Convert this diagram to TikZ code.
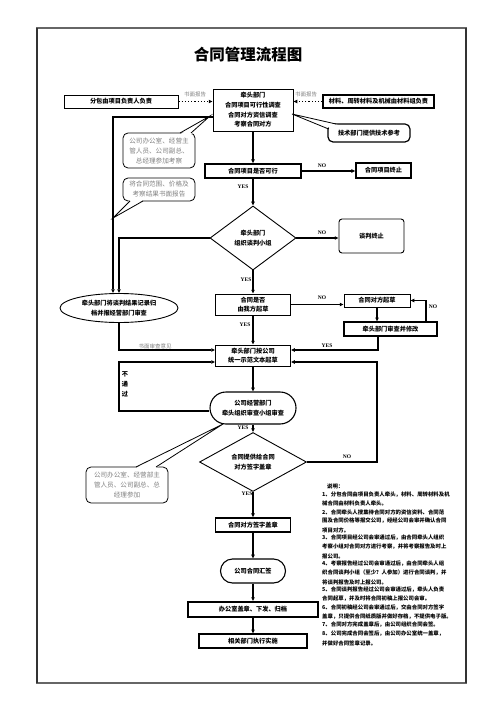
\documentclass[tikz,border=0pt]{standalone}
\usepackage{fontspec}
\newfontfamily\cjk{Noto Sans CJK SC}
\newfontfamily\tms{Liberation Serif}
\usetikzlibrary{shapes.geometric,arrows.meta}
\tikzset{
  base/.style={draw, inner sep=0pt, align=center, font=\cjk\bfseries\fontsize{6.2}{9.6}\selectfont},
  rbox/.style={base, line width=0.9pt},
  tbox/.style={base, line width=1.6pt},
  callout/.style={draw, rounded corners=5pt, line width=0.8pt, align=center, inner sep=0pt, text=black!50, font=\cjk\fontsize{6.6}{10}\selectfont},
  arr/.style={line width=1.3pt, -{Triangle[length=3.8pt,width=3.3pt]}},
  dots/.style={line width=1.2pt, dotted, -{Triangle[length=3.8pt,width=3.3pt]}},
  lab/.style={font=\tms\bfseries\fontsize{5.5}{6}\selectfont, inner sep=0pt},
  glab/.style={font=\cjk\fontsize{5.5}{6}\selectfont, text=black!50, inner sep=0pt},
  note/.style={anchor=west, inner sep=0pt, font=\cjk\bfseries\fontsize{5.4}{6}\selectfont},
  tail/.style={line width=0.8pt},
}
\begin{document}
\begin{tikzpicture}[x=1pt,y=-1pt]
\useasboundingbox (0,0) rectangle (503,711);
\draw[black!60, line width=1.2pt] (37,28) rectangle (466,683);
\draw[black!80, line width=2.2pt] (37,28) -- (37,683);
\draw[black!80, line width=1.8pt] (466,28) -- (466,683);

\node[font=\cjk\bfseries\fontsize{15.5}{16}\selectfont] (title) at (248,55) {合同管理流程图};

% top row
\node[rbox, minimum width=80pt, minimum height=42pt] (top) at (253,110) {牵头部门\\合同项目可行性调查\\合同对方资信调查\\考察合同对方};
\node[rbox, minimum width=114pt, minimum height=13pt] (left) at (121,101.5) {分包由项目负责人负责};
\node[base, line width=1.4pt, minimum width=111pt, minimum height=13pt] (right) at (378.5,101.5) {材料、周转材料及机械由材料组负责};
\node[base, rounded corners=5pt, line width=1.2pt, minimum width=82pt, minimum height=18pt] (tech) at (369,133) {技术部门提供技术参考};
\node[callout, minimum width=72pt, minimum height=35pt] (c1) at (159,150.5) {公司办公室、经营主\\管人员、公司副总、\\总经理参加考察};
\node[callout, minimum width=72pt, minimum height=23pt] (c2) at (159,189.5) {将合同范围、价格及\\考察结果书面报告};

% main flow
\node[tbox, minimum width=96pt, minimum height=14pt] (feas) at (253,171) {合同项目是否可行};
\node[tbox, minimum width=55pt, minimum height=15pt] (stop) at (383.5,170.5) {合同项目终止};
\node[base, diamond, line width=0.9pt, minimum width=86pt, minimum height=64pt] (d1) at (253,238) {牵头部门\\组织谈判小组};
\node[base, rounded corners=3pt, line width=0.9pt, minimum width=65pt, minimum height=34pt] (talk) at (371.5,236) {谈判终止};
\node[base, ellipse, line width=0.9pt, minimum width=118pt, minimum height=29pt] (ell) at (119,308) {牵头部门将谈判结果记录归\\档并报经营部门审查};
\node[rbox, minimum width=75pt, minimum height=21pt] (draft) at (253,304.5) {合同是否\\由我方起草};
\node[rbox, minimum width=66pt, minimum height=13pt] (other) at (377,300.5) {合同对方起草};
\node[base, line width=1.2pt, minimum width=93pt, minimum height=14pt] (rev) at (390.5,329) {牵头部门审查并修改};
\node[rbox, minimum width=75pt, minimum height=21pt] (std) at (253,355.5) {牵头部门按公司\\统一示范文本起草};
\node[base, rounded corners=16pt, line width=1.1pt, minimum width=86pt, minimum height=32pt] (stad1) at (253,408) {公司经营部门\\牵头组织审查小组审查};
\node[base, diamond, line width=0.9pt, minimum width=107pt, minimum height=46pt] (d2) at (253,462) {合同提供给合同\\对方签字盖章};
\node[callout, minimum width=82pt, minimum height=36pt] (c3) at (127,485) {公司办公室、经营部主\\管人员、公司副总、总\\经理参加};
\node[tbox, minimum width=75pt, minimum height=14pt] (sign) at (253,525) {合同对方签字盖章};
\node[base, rounded corners=12pt, line width=1.1pt, minimum width=65pt, minimum height=24pt] (stad2) at (253,571) {公司合同汇签};
\node[base, line width=1.8pt, minimum width=130pt, minimum height=15pt] (office) at (253,609.5) {办公室盖章、下发、归档};
\node[base, line width=1.2pt, minimum width=108pt, minimum height=14pt] (exec) at (253,641) {相关部门执行实施};

% dotted report arrows
\draw[dots] (left.east) -- (left.east -| top.west);
\draw[dots] (right.west) -- (right.west -| top.east);
\node[glab] (lr1) at (195,94) {书面报告};
\node[glab] (lr2) at (306,94) {书面报告};

% connectors
\draw[arr] (top.south) -- (feas.north);
\draw[arr] (feas.east) -- (feas.east -| stop.west);
\draw[arr] (feas.south) -- (d1.north);
\draw[arr] (d1.east) -- (d1.east -| talk.west);
\draw[arr] (d1.south) -- (draft.north);
\draw[arr] (draft.east) -- (draft.east -| other.west);
\draw[arr] (other.south) -- (other.south |- rev.north);
\coordinate (nl) at (426,300.5);
\draw[arr] (nl |- rev.north) -- (nl) -- (other.east);
\coordinate (yr) at (378,350);
\draw[arr] (yr |- rev.south) -- (yr) -- (yr -| std.east);
\draw[arr] (draft.south) -- (std.north);
\coordinate (el) at (119,350);
\draw[arr] (ell.south) -- (el) -- (el -| std.west);
\coordinate (a1) at (113,117);
\draw[arr] (a1 -| top.west) -- (a1) -- (a1 |- ell.north);
\coordinate (a2) at (119,238);
\draw[arr] (d1.west) -- (a2) -- (ell.north);
\draw[arr] (std.south) -- (stad1.north);
\coordinate (b1) at (119,411);
\coordinate (b2) at (119,362);
\draw[arr] (b1 -| stad1.west) -- (b1) -- (b2) -- (b2 -| std.west);
\draw[arr] (stad1.south) -- (d2.north);
\coordinate (k1) at (377,462);
\coordinate (k2) at (377,362);
\draw[arr] (d2.east) -- (k1) -- (k2) -- (k2 -| std.east);
\draw[arr] (d2.south) -- (sign.north);
\draw[arr] (sign.south) -- (stad2.north);
\draw[arr] (stad2.south) -- (office.north);
\draw[arr] (office.south) -- (exec.north);

% callout tails
\fill[white] (180,134.5) -- (210,116) -- (191,134.5) -- cycle;
\draw[tail] (180,133) -- (210,116) -- (191,133);
\fill[white] (130,200) -- (113,218) -- (143,200) -- cycle;
\draw[tail] (130,201) -- (113,218) -- (143,201);
\fill[white] (330,128) -- (292,114) -- (338,125) -- cycle;
\draw[tail] (328.6,129) -- (292,114) -- (336,124);
\fill[white] (136,468) -- (223,424) -- (156,468) -- cycle;
\draw[tail] (136,467) -- (223,424) -- (156,467);

% labels
\node[lab] (l1) at (322,166) {NO};
\node[lab] (l2) at (243,187) {YES};
\node[lab] (l3) at (322,233) {NO};
\node[lab] (l4) at (246,280) {YES};
\node[lab] (l5) at (322,298) {NO};
\node[lab] (l6) at (433,307) {NO};
\node[lab] (l7) at (327,346) {YES};
\node[lab] (l8) at (245,325) {YES};
\node[glab] (l9) at (155,346) {书面审查意见};
\node[lab] (l10) at (347,457) {NO};
\node[lab] (l11) at (243,428) {YES};
\node[lab] (l12) at (247,494) {YES};
\node[font=\cjk\bfseries\fontsize{6.2}{10}\selectfont, align=center, inner sep=0pt] (fail) at (125,384) {不\\通\\过};

% notes
\node[note] (n0) at (327,486) {说明：};
\node[note] (n1) at (322,495) {1、分包合同由项目负责人牵头，材料、周转材料及机};
\node[note] (n2) at (322,503.5) {械合同由材料负责人牵头。};
\node[note] (n3) at (322,512) {2、合同牵头人搜集待合同对方的资信资料、合同范};
\node[note] (n4) at (322,521) {围及合同价格等报交公司，经经公司会审并确认合同};
\node[note] (n5) at (322,530) {项目对方。};
\node[note] (n6) at (322,538) {3、合同项目经公司会审通过后，由合同牵头人组织};
\node[note] (n7) at (322,547) {考察小组对合同对方进行考察，并将考察报告及时上};
\node[note] (n8) at (322,556) {报公司。};
\node[note] (n9) at (322,564) {4、考察报告经过公司会审通过后，由合同牵头人组};
\node[note] (n10) at (322,573) {织合同谈判小组（至少？人参加）进行合同谈判，并};
\node[note] (n11) at (322,582) {将谈判报告及时上报公司。};
\node[note] (n12) at (322,590) {5、合同谈判报告经过公司会审通过后，牵头人负责};
\node[note] (n13) at (322,599) {合同起草，并及时将合同初稿上报公司会审。};
\node[note] (n14) at (322,608) {6、合同初稿经公司会审通过后，交由合同对方签字};
\node[note] (n15) at (322,617) {盖章，只提供合同纸质版并做好存档，不提供电子版。};
\node[note] (n16) at (322,625) {7、合同对方完成盖章后，由公司组织合同会签。};
\node[note] (n17) at (322,634) {8、公司完成合同会签后，由公司办公室统一盖章，};
\node[note] (n18) at (322,643) {并做好合同签章记录。};
\end{tikzpicture}
\end{document}
